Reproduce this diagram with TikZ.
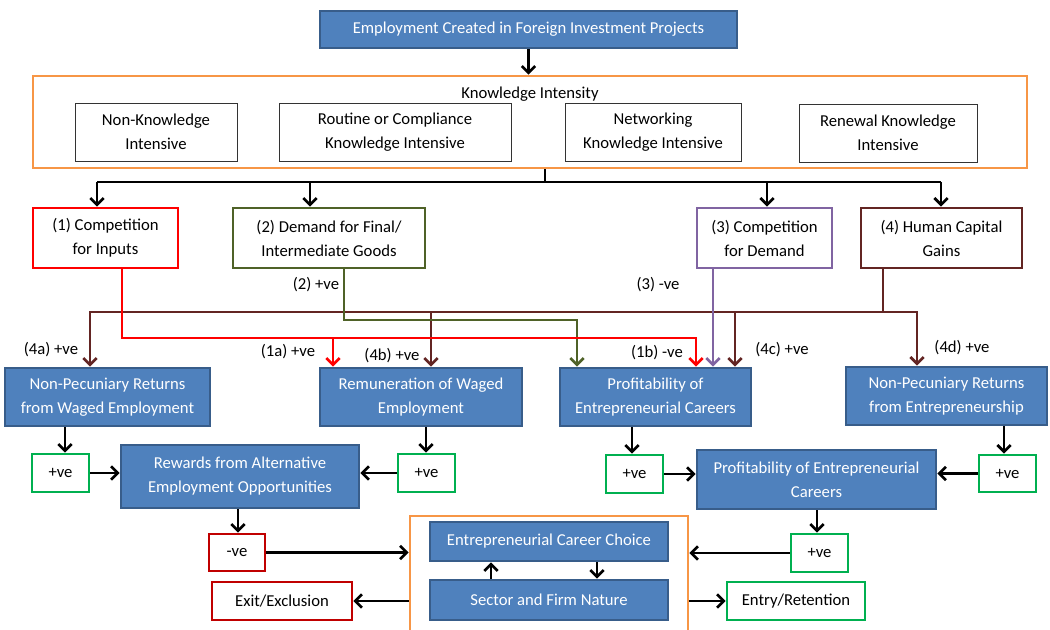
\documentclass[tikz,border=0pt]{standalone}
\usepackage{fontspec}
\setmainfont{Carlito}
\usetikzlibrary{arrows.meta,fit,calc}
\definecolor{bfill}{HTML}{4F81BD}
\definecolor{bdraw}{HTML}{385D8A}
\definecolor{korange}{HTML}{F79646}
\definecolor{cred}{HTML}{FF0000}
\definecolor{colive}{HTML}{4F6228}
\definecolor{cpurple}{HTML}{8064A2}
\definecolor{cdark}{HTML}{632523}
\definecolor{cgreen}{HTML}{00B050}
\definecolor{cdred}{HTML}{C00000}
\begin{document}
\begin{tikzpicture}[x=0.75pt,y=-0.75pt,
 every node/.style={font=\fontsize{12.5}{18}\selectfont, inner sep=0pt, align=center},
 sz/.style 2 args={minimum width=#1*0.75pt, minimum height=#2*0.75pt},
 bluebox/.style={draw=bdraw, fill=bfill, line width=2.2pt, text=white},
 kbox/.style={draw=black!80, line width=0.7pt, fill=white},
 obox/.style={draw=korange, line width=2.2pt},
 cbox/.style={draw=#1, line width=2.2pt, fill=white},
 conn/.style={line width=2pt, -{Straight Barb[length=5pt,width=10pt]}},
 plain/.style={line width=2pt},
 lbl/.style={font=\fontsize{12.5}{15}\selectfont}
]
\useasboundingbox (0,0) rectangle (1050,630);
\fill[white] (0,0) rectangle (1050,630);

% top
\node[bluebox, sz={417}{37}] (top) at (528.5,29.5) {Employment Created in Foreign Investment Projects};
\node[obox, fit={(33,76)(1027,168)}] (ki) {};
\node (kit) at (530,94) {Knowledge Intensity};
\node[kbox, sz={162}{58}] (k1) at (156,132) {Non-Knowledge\\Intensive};
\node[kbox, sz={232}{58}] (k2) at (395,132) {Routine or Compliance\\Knowledge Intensive};
\node[kbox, sz={176}{58}] (k3) at (653,132) {Networking\\Knowledge Intensive};
\node[kbox, sz={178}{58}] (k4) at (888,133) {Renewal Knowledge\\Intensive};

% row 2
\node[cbox=cred, sz={145}{60}] (c1) at (105.5,238) {(1) Competition\\for Inputs};
\node[cbox=colive, sz={192}{60}] (c2) at (329,238) {(2) Demand for Final/\\Intermediate Goods};
\node[cbox=cpurple, sz={135}{60}] (c3) at (764.5,238) {(3) Competition\\for Demand};
\node[cbox=cdark, sz={161}{60}] (c4) at (941.5,238) {(4) Human Capital\\Gains};

% row 3
\node[bluebox, sz={205}{58}] (np1) at (107.5,397) {Non-Pecuniary Returns\\from Waged Employment};
\node[bluebox, sz={202}{58}] (rem) at (421,397) {Remuneration of Waged\\Employment};
\node[bluebox, sz={191}{58}] (prof) at (655.5,397) {Profitability of\\Entrepreneurial Careers};
\node[bluebox, sz={201}{58}] (np2) at (946.5,396) {Non-Pecuniary Returns\\from Entrepreneurship};

% row 4
\node[cbox=cgreen, sz={57}{38}] (g1) at (60.5,473) {+ve};
\node[cbox=cgreen, sz={57}{38}] (g2) at (426.5,473) {+ve};
\node[cbox=cgreen, sz={57}{38}] (g3) at (634.5,474) {+ve};
\node[cbox=cgreen, sz={57}{37}] (g4) at (1007.5,473.5) {+ve};
\node[bluebox, sz={238}{63}] (rew) at (240,476.5) {Rewards from Alternative\\Employment Opportunities};
\node[bluebox, sz={239}{59}] (prof2) at (816.5,479.5) {Profitability of Entrepreneurial\\Careers};

% row 5
\node[cbox=cdred, sz={56}{37}] (neg) at (237,552.5) {-ve};
\node[cbox=cgreen, sz={57}{38}] (pos) at (819.5,553) {+ve};
\begin{scope}
\clip (0,0) rectangle (1050,630);
\node[obox, fit={(410,516)(688,645)}] (ob) {};
\end{scope}
\node[bluebox, sz={238}{39}] (ecc) at (549,541.5) {Entrepreneurial Career Choice};
\node[bluebox, sz={238}{40}] (sfn) at (549,600) {Sector and Firm Nature};
\node[cbox=cdred, sz={140}{38}] (exit) at (282,601) {Exit/Exclusion};
\node[cbox=cgreen, sz={138}{38}] (entry) at (796,601) {Entry/Retention};

% labels
\node[lbl] (l2) at (316,285) {(2) +ve};
\node[lbl] (l3) at (658,285) {(3) -ve};
\node[lbl] (l4a) at (51,350) {(4a) +ve};
\node[lbl] (l1a) at (288,352) {(1a) +ve};
\node[lbl] (l4b) at (392,356) {(4b) +ve};
\node[lbl] (l1b) at (657,353) {(1b) -ve};
\node[lbl] (l4c) at (782,350) {(4c) +ve};
\node[lbl] (l4d) at (962,348) {(4d) +ve};

% top connectors
\draw[conn] (top.south) -- (top.south |- ki.north);
\coordinate (kb) at (545,182);
\coordinate (a1) at (97,0);
\coordinate (a2) at (310,0);
\coordinate (a3) at (767,0);
\coordinate (a4) at (941,0);
\draw[plain] (ki.south -| kb) -- (kb);
\draw[plain] (a1 |- kb) -- (a4 |- kb);
\draw[conn] (a1 |- kb) -- (a1 |- c1.north);
\draw[conn] (a2 |- kb) -- (a2 |- c2.north);
\draw[conn] (a3 |- kb) -- (a3 |- c3.north);
\draw[conn] (a4 |- kb) -- (a4 |- c4.north);

% dark red (4)
\coordinate (d0) at (883,312);
\coordinate (d1) at (90,312);
\coordinate (d2) at (431,312);
\coordinate (d3) at (735,312);
\coordinate (d4) at (917,312);
\draw[plain,cdark] (d0 |- c4.south) -- (d0);
\draw[conn,cdark] (d0) -- (d4) -- (d4 |- np2.north);
\draw[conn,cdark] (d0) -- (d1) -- (d1 |- np1.north);
\draw[conn,cdark] (d2) -- (d2 |- rem.north);
\draw[conn,cdark] (d3) -- (d3 |- prof.north);

% olive (2)
\coordinate (o0) at (344,320);
\coordinate (o1) at (577,320);
\draw[conn,colive] (o0 |- c2.south) -- (o0) -- (o1) -- (o1 |- prof.north);

% purple (3)
\coordinate (p0) at (713,0);
\draw[conn,cpurple] (p0 |- c3.south) -- (p0 |- prof.north);

% red (1)
\coordinate (r0) at (122,338);
\coordinate (r1) at (333,338);
\coordinate (r2) at (696,338);
\draw[conn,cred] (r0 |- c1.south) -- (r0) -- (r2) -- (r2 |- prof.north);
\draw[conn,cred] (r1) -- (r1 |- rem.north);

% lower connectors
\coordinate (v1) at (65,0);
\coordinate (v2) at (426,0);
\coordinate (v3) at (632,0);
\coordinate (v4) at (1004,0);
\coordinate (v5) at (238,0);
\coordinate (v6) at (817,0);
\coordinate (v7) at (491,0);
\coordinate (v8) at (597,0);
\draw[conn] (v1 |- np1.south) -- (v1 |- g1.north);
\draw[conn] (v2 |- rem.south) -- (v2 |- g2.north);
\draw[conn] (v3 |- prof.south) -- (v3 |- g3.north);
\draw[conn] (v4 |- np2.south) -- (v4 |- g4.north);
\draw[conn] (g1.east) -- (g1.east -| rew.west);
\draw[conn] (g2.west) -- (g2.west -| rew.east);
\draw[conn] (g3.east) -- (g3.east -| prof2.west);
\draw[conn] (g4.west) -- (g4.west -| prof2.east);
\draw[conn] (v5 |- rew.south) -- (v5 |- neg.north);
\draw[conn] (v6 |- prof2.south) -- (v6 |- pos.north);
\draw[conn] (neg.east) -- (neg.east -| ob.west);
\draw[conn] (pos.west) -- (pos.west -| ob.east);
\draw[conn] (v7 |- sfn.north) -- (v7 |- ecc.south);
\draw[conn] (v8 |- ecc.south) -- (v8 |- sfn.north);
\draw[conn] (exit.east -| ob.west) -- (exit.east);
\draw[conn] (entry.west -| ob.east) -- (entry.west);
\end{tikzpicture}
\end{document}
